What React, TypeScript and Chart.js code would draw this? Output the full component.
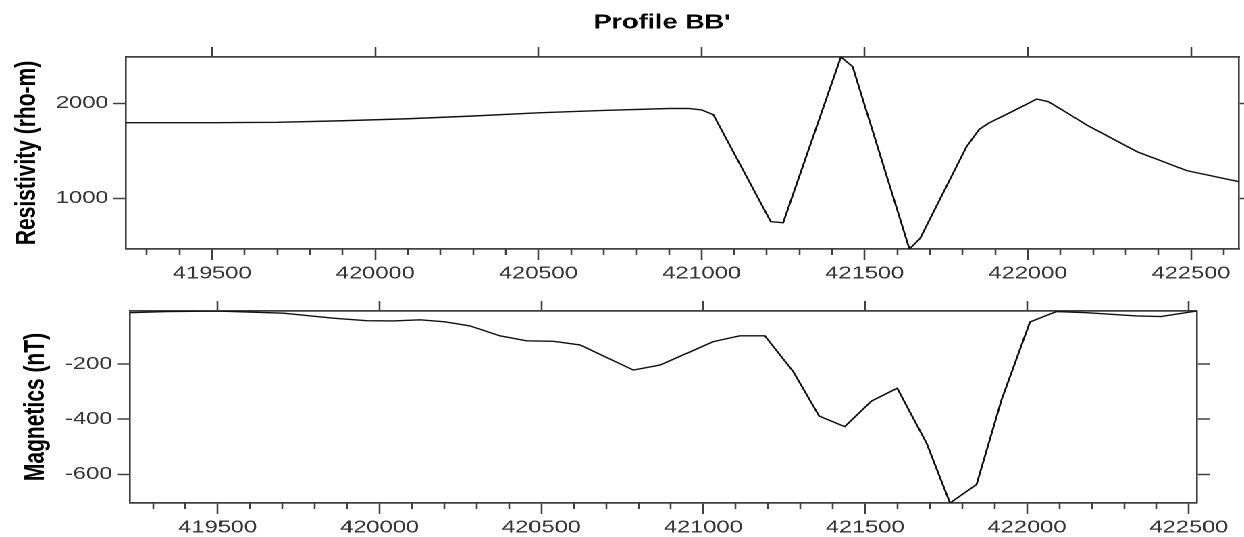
import React, { useEffect, useRef } from 'react';
import { Chart, registerables } from 'chart.js';

Chart.register(...registerables);

// ---------- data ----------
const TITLE = "Profile BB'";
const RES_LABEL = 'Resistivity (rho-m)';
const MAG_LABEL = 'Magnetics (nT)';

const RES_X = [
  419236, 419500, 419700, 419900, 420100, 420300, 420500, 420700, 420900, 420960,
  421000, 421036, 421212, 421250, 421427, 421463, 421637, 421670, 421812, 421851,
  421879, 421956, 422027, 422063, 422122, 422180, 422334, 422487, 422647,
];
const RES_Y = [
  1796, 1796, 1800, 1816, 1837, 1866, 1900, 1924, 1945, 1945,
  1930, 1880, 754, 743, 2487, 2385, 466, 579, 1543, 1726,
  1789, 1920, 2045, 2017, 1895, 1772, 1491, 1291, 1175,
];

const MAG_X = [
  419229, 419343, 419500, 419703, 419857, 419960, 420042, 420125, 420202, 420279,
  420372, 420454, 420537, 420619, 420784, 420866, 420938, 421031, 421113, 421190,
  421278, 421358, 421437, 421520, 421599, 421690, 421762, 421844, 421921, 422009,
  422091, 422184, 422338, 422413, 422525,
];
const MAG_Y = [
  -14, -10, -8, -16, -34, -43, -44, -40, -47, -62,
  -98, -116, -118, -131, -222, -204, -167, -119, -98, -98,
  -228, -389, -427, -334, -288, -488, -704, -637, -331, -48,
  -10, -14, -26, -28, -8,
];

const X_MAJOR_TICKS = [419500, 420000, 420500, 421000, 421500, 422000, 422500];
const X_MINOR_STEP = 100;
const RES_TICKS = [1000, 2000];
const MAG_TICKS = [-600, -400, -200];

// ---------- layout / style ----------
const W = 921;
const SX = 1244 / W;
const FONT = "'Liberation Sans', Arial, Helvetica, sans-serif";
const FRAME = '#404040';
const TICK_TXT = '#353535';

function minorTicks(min: number, max: number) {
  const out: number[] = [];
  for (let v = Math.ceil(min / X_MINOR_STEP) * X_MINOR_STEP; v <= max; v += X_MINOR_STEP) {
    if (!X_MAJOR_TICKS.includes(v)) out.push(v);
  }
  return out;
}

type PanelCfg = {
  xs: number[];
  ys: number[];
  yTicks: number[];
  label: string;
  leftW: number;
  rightW: number;
  topH: number;
  bottomH: number;
  titlePad: number;
  showTitle: boolean;
};

const titlePlugin = {
  id: 'profileTitle',
  afterDraw(chart: any) {
    if (!chart.options.plugins.profileTitle?.show) return;
    const ctx = chart.ctx;
    ctx.save();
    ctx.font = `bold 20px ${FONT}`;
    ctx.fillStyle = '#000';
    ctx.textAlign = 'center';
    ctx.textBaseline = 'alphabetic';
    ctx.fillText(TITLE, 662 / SX, 28.5);
    ctx.restore();
  },
};

function makeConfig(c: PanelCfg): any {
  const xMin = c.xs[0];
  const xMax = c.xs[c.xs.length - 1];
  const yMin = Math.min(...c.ys);
  const yMax = Math.max(...c.ys);
  const majors = X_MAJOR_TICKS.filter((v) => v >= xMin && v <= xMax);
  const minors = minorTicks(xMin, xMax);
  return {
    type: 'line',
    data: {
      datasets: [
        {
          data: c.xs.map((x, i) => ({ x, y: c.ys[i] })),
          borderColor: '#111',
          borderWidth: 1.4,
          pointRadius: 0,
          tension: 0,
          fill: false,
          xAxisID: 'x',
          yAxisID: 'y',
        },
      ],
    },
    options: {
      responsive: false,
      maintainAspectRatio: false,
      animation: false,
      devicePixelRatio: 2,
      layout: { padding: 0 },
      plugins: {
        legend: { display: false },
        tooltip: { enabled: false },
        profileTitle: { show: c.showTitle },
      },
      scales: {
        x: {
          type: 'linear',
          axis: 'x',
          position: 'bottom',
          weight: 1,
          min: xMin,
          max: xMax,
          afterBuildTicks: (s: any) => {
            s.ticks = majors.map((v) => ({ value: v }));
          },
          afterFit: (s: any) => {
            s.height = c.bottomH;
          },
          ticks: {
            color: TICK_TXT,
            font: { family: FONT, size: 17.5 },
            padding: 3,
            maxRotation: 0,
            autoSkip: false,
            callback: (v: any) => String(v),
          },
          grid: { drawOnChartArea: false, drawTicks: true, tickLength: 11, tickColor: FRAME, tickWidth: 1.3 },
          border: { display: true, color: FRAME, width: 1.7 },
        },
        xm: {
          type: 'linear',
          axis: 'x',
          position: 'bottom',
          weight: 0,
          min: xMin,
          max: xMax,
          afterBuildTicks: (s: any) => {
            s.ticks = minors.map((v) => ({ value: v }));
          },
          afterFit: (s: any) => {
            s.height = 0;
          },
          ticks: { display: false },
          grid: { drawOnChartArea: false, drawTicks: true, tickLength: 6, tickColor: FRAME, tickWidth: 1.3 },
          border: { display: false },
        },
        xt: {
          type: 'linear',
          axis: 'x',
          position: 'top',
          min: xMin,
          max: xMax,
          afterBuildTicks: (s: any) => {
            s.ticks = majors.map((v) => ({ value: v }));
          },
          afterFit: (s: any) => {
            s.height = c.topH;
          },
          ticks: { display: false },
          grid: { drawOnChartArea: false, drawTicks: true, tickLength: 10, tickColor: FRAME, tickWidth: 1.3 },
          border: { display: true, color: FRAME, width: 1.7 },
        },
        y: {
          type: 'linear',
          axis: 'y',
          position: 'left',
          min: yMin,
          max: yMax,
          afterBuildTicks: (s: any) => {
            s.ticks = c.yTicks.map((v) => ({ value: v }));
          },
          afterFit: (s: any) => {
            s.width = c.leftW;
          },
          ticks: {
            color: TICK_TXT,
            font: { family: FONT, size: 17.5 },
            padding: 3.5,
            callback: (v: any) => String(v),
          },
          grid: { drawOnChartArea: false, drawTicks: true, tickLength: 9.5, tickColor: FRAME, tickWidth: 1.5 },
          border: { display: true, color: FRAME, width: 1.3 },
          title: {
            display: true,
            text: c.label,
            color: '#000',
            font: { family: FONT, size: 21, weight: 'bold' },
            padding: { top: c.titlePad, bottom: 0 },
          },
        },
        yr: {
          type: 'linear',
          axis: 'y',
          position: 'right',
          min: yMin,
          max: yMax,
          afterBuildTicks: (s: any) => {
            s.ticks = c.yTicks.map((v) => ({ value: v }));
          },
          afterFit: (s: any) => {
            s.width = c.rightW;
          },
          ticks: { display: false },
          grid: { drawOnChartArea: false, drawTicks: true, tickLength: 9.5, tickColor: FRAME, tickWidth: 1.5 },
          border: { display: true, color: FRAME, width: 1.3 },
        },
      },
    },
    plugins: [titlePlugin],
  };
}

const TOP_H = 285;
const BOT_H = 537 - TOP_H;

const TOP_CFG: PanelCfg = {
  xs: RES_X,
  ys: RES_Y,
  yTicks: RES_TICKS,
  label: RES_LABEL,
  leftW: 126 / SX,
  rightW: W - 1239 / SX,
  topH: 57,
  bottomH: TOP_H - 249,
  titlePad: 7.8,
  showTitle: true,
};

const BOT_CFG: PanelCfg = {
  xs: MAG_X,
  ys: MAG_Y,
  yTicks: MAG_TICKS,
  label: MAG_LABEL,
  leftW: 130 / SX,
  rightW: W - 1197 / SX,
  topH: 311 - TOP_H,
  bottomH: BOT_H - (503 - TOP_H),
  titlePad: 14.1,
  showTitle: false,
};

function Panel({ cfg, top, height }: { cfg: PanelCfg; top: number; height: number }) {
  const ref = useRef<HTMLCanvasElement>(null);
  useEffect(() => {
    const chart = new Chart(ref.current as HTMLCanvasElement, makeConfig(cfg));
    return () => chart.destroy();
  }, [cfg]);
  return (
    <canvas
      ref={ref}
      width={W}
      height={height}
      style={{ position: 'absolute', left: 0, top, width: W, height, display: 'block' }}
    />
  );
}

export default function App() {
  return (
    <div
      style={{
        position: 'absolute',
        left: 0,
        top: 0,
        width: W,
        height: 537,
        background: '#fff',
        transform: `scaleX(${SX})`,
        transformOrigin: '0 0',
      }}
    >
      <Panel cfg={TOP_CFG} top={0} height={TOP_H} />
      <Panel cfg={BOT_CFG} top={TOP_H} height={BOT_H} />
    </div>
  );
}
